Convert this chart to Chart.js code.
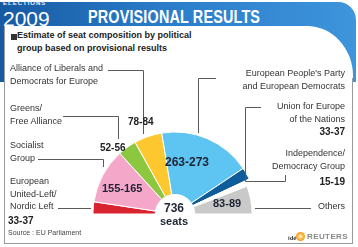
<!DOCTYPE html>
<html lang="en">
<head>
  <meta charset="UTF-8">
  <title>Elections 2009 - Provisional results</title>
  <script src="https://cdn.jsdelivr.net/npm/chart.js"></script>
  <style>
    html, body { margin: 0; padding: 0; background: #fff; }
    body { width: 358px; height: 247px; position: relative; overflow: hidden;
           font-family: "Liberation Sans", Arial, sans-serif; color: #333; }
    .abs { position: absolute; white-space: nowrap; }
    #hdr { left: 0; top: 2px; width: 356px; height: 80px; border-top-right-radius: 18px;
           background: linear-gradient(to right, #175aa3 0%, #2a7cc8 45%, #3e95dc 100%); }
    #panel { left: 4px; top: 26px; width: 348px; height: 217px; background: #fff;
             border-left: 1px solid #9a9a9a; border-bottom: 1px solid #9a9a9a;
             border-top-right-radius: 46px 50px; }
    #rline { left: 352px; top: 78px; width: 1px; height: 166px; background: #9a9a9a; }
    #elections { left: 3px; top: 0; font-size: 6px; font-weight: bold; line-height: 6px;
                 color: #e8f2ff; letter-spacing: 1px; }
    #year { left: 3px; top: 8px; font-size: 21px; line-height: 21px; color: #fff; }
    #title { left: 88px; top: 8px; font-size: 18px; line-height: 18px; font-weight: bold; color: #fff;
             transform: scaleX(0.8); transform-origin: left top; letter-spacing: 0.2px; }
    #sq { left: 11px; top: 34px; width: 6px; height: 6px; background: #333; }
    #sub { left: 17px; top: 29px; font-size: 9px; font-weight: bold; line-height: 12.5px; color: #222; }
    .lab { font-size: 9px; line-height: 12.5px; color: #333; }
    .r { text-align: right; right: 13px; }
    .num { font-size: 10px; line-height: 12px; font-weight: bold; color: #222; }
    .in { font-weight: bold; color: #1e2433; }
    #src { left: 8px; top: 228px; font-size: 7px; line-height: 9px; color: #444; }
    #wrap { left: 85px; top: 127px; width: 180px; height: 92px; }
    svg { position: absolute; left: 0; top: 0; }
    #ide { left: 288px; top: 235px; font-size: 6px; font-weight: bold; line-height: 7px; color: #333; }
    #dot { left: 296px; top: 232px; width: 9px; height: 9px; border-radius: 50%;
           background: radial-gradient(circle, #fff2c8 0%, #f5a623 60%, #e8891a 100%); }
    #reuters { left: 307px; top: 232px; font-size: 8px; font-weight: bold; line-height: 9px;
               color: #8a8a8a; letter-spacing: 0.4px; }
  </style>
</head>
<body>
  <div id="hdr" class="abs"></div>
  <div id="panel" class="abs"></div>
  <div id="rline" class="abs"></div>
  <div id="elections" class="abs">ELECTIONS</div>
  <div id="year" class="abs">2009</div>
  <div id="title" class="abs">PROVISIONAL RESULTS</div>
  <div id="sq" class="abs"></div>
  <div id="sub" class="abs">Estimate of seat composition by political<br>group based on provisional results</div>

  <div id="wrap" class="abs"><canvas id="grafico"></canvas></div>

  <svg width="358" height="247">
    <g fill="none" stroke="#5a5a5a" stroke-width="1">
      <polyline points="108,70.5 143.5,70.5 143.5,134"/>
      <polyline points="63,116.5 118.5,116.5 118.5,139"/>
      <polyline points="38,159.5 103.5,159.5 103.5,167"/>
      <polyline points="58,208.5 91,208.5"/>
      <polyline points="216,78.5 198.5,78.5 198.5,133"/>
      <polyline points="261,107.5 245.5,107.5 245.5,181.5 285.5,181.5 285.5,175"/>
      <polyline points="255,208.5 311,208.5"/>
    </g>
  </svg>

  <!-- etiquetas de grupos -->
  <div class="abs lab" style="left:10px;top:62px">Alliance of Liberals and<br>Democrats for Europe</div>
  <div class="abs lab" style="left:10px;top:102px">Greens/<br>Free Alliance</div>
  <div class="abs lab" style="left:10px;top:139px">Socialist<br>Group</div>
  <div class="abs lab" style="left:10px;top:175px">European<br>United-Left/<br>Nordic Left</div>
  <div class="abs num rng" data-i="0" style="left:8px;top:215px"></div>
  <div id="src" class="abs">Source : EU Parliament</div>

  <div class="abs lab r" style="top:67px">European People's Party<br>and European Democrats</div>
  <div class="abs lab r" style="top:100px">Union for Europe<br>of the Nations</div>
  <div class="abs num r rng" data-i="5" style="top:126px"></div>
  <div class="abs lab r" style="top:147px">Independence/<br>Democracy Group</div>
  <div class="abs num r rng" data-i="6" style="top:176px"></div>
  <div class="abs lab r" style="top:200px">Others</div>

  <!-- rangos junto al semicirculo -->
  <div class="abs num rng" data-i="3" style="left:128px;top:116px"></div>
  <div class="abs num rng" data-i="2" style="left:100px;top:142px"></div>
  <div class="abs in rng" data-i="4" style="left:165px;top:156px;font-size:12px;line-height:12px"></div>
  <div class="abs in rng" data-i="1" style="left:102px;top:183px;font-size:11px;line-height:11px"></div>
  <div class="abs in rng" data-i="7" style="left:213px;top:198px;font-size:11px;line-height:11px"></div>
  <div class="abs in" style="left:144px;top:203px;width:60px;text-align:center;font-size:12px;line-height:11px">736</div>
  <div class="abs in" style="left:144px;top:216px;width:60px;text-align:center;font-size:11px;line-height:10px">seats</div>

  <div id="ide" class="abs">idé</div>
  <div id="dot" class="abs"></div>
  <div id="reuters" class="abs">REUTERS</div>

  <script>
    // grupos politicos, de izquierda a derecha en el hemiciclo
    const grupos = [
      'European United-Left/Nordic Left',
      'Socialist Group',
      'Greens/Free Alliance',
      'Alliance of Liberals and Democrats for Europe',
      "European People's Party and European Democrats",
      'Union for Europe of the Nations',
      'Independence/Democracy Group',
      'Others'
    ];
    const escanosMin = [33, 155, 52, 78, 263, 33, 15, 83];
    const escanosMax = [37, 165, 56, 84, 273, 37, 19, 89];
    const escanos = [35, 160, 54, 81, 268, 35, 17, 86];
    const colores = ['#d9232e', '#f4a7c9', '#8dc63f', '#fdc82f', '#5ec5f2', '#0e5c9a', '#ffffff', '#c9c9c9'];

    document.querySelectorAll('.rng').forEach(el => {
      const i = +el.dataset.i;
      el.textContent = escanosMin[i] + '-' + escanosMax[i];
    });

    // "Others" va un poco mas corto que el resto
    const achicarOtros = {
      id: 'achicarOtros',
      afterDatasetsUpdate(chart) {
        const arc = chart.getDatasetMeta(0).data[grupos.length - 1];
        arc.outerRadius = arc.outerRadius * 0.94;
      }
    };

    const ctx = document.getElementById('grafico').getContext('2d');
    const chart = new Chart(ctx, {
      type: 'doughnut',
      data: {
        labels: grupos,
        datasets: [{
          data: escanos,
          backgroundColor: colores,
          borderColor: '#ffffff',
          borderWidth: 1
        }]
      },
      options: {
        responsive: true,
        maintainAspectRatio: false,
        animation: false,
        rotation: -90,
        circumference: 180,
        cutout: '24%',
        radius: 82,
        layout: { padding: 0 },
        plugins: {
          legend: { display: false },
          tooltip: { enabled: false }
        }
      },
      plugins: [achicarOtros]
    });
  </script>
</body>
</html>
